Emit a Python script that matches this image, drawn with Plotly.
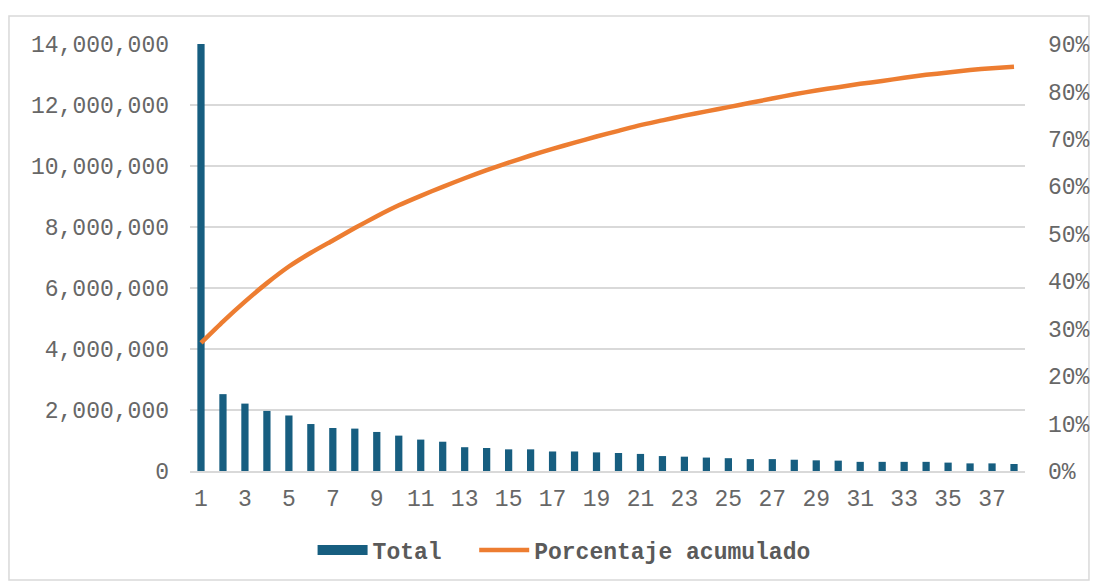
import plotly.graph_objects as go

# Categories 1..38
categorias = list(range(1, 39))

# Total per category
total = [
    14000000, 2520000, 2210000, 1970000, 1820000, 1540000, 1410000, 1390000,
    1280000, 1160000, 1030000, 960000, 780000, 755000, 710000, 710000,
    640000, 640000, 610000, 590000, 560000, 490000, 470000, 440000,
    420000, 390000, 390000, 370000, 350000, 340000, 300000, 300000,
    300000, 300000, 275000, 250000, 250000, 230000,
]

# Cumulative share (0-1)
porcentaje_acumulado = [
    0.270, 0.315, 0.357, 0.396, 0.431, 0.460, 0.486, 0.512,
    0.537, 0.560, 0.580, 0.599, 0.617, 0.634, 0.650, 0.665,
    0.679, 0.692, 0.705, 0.717, 0.729, 0.739, 0.749, 0.758,
    0.767, 0.776, 0.785, 0.794, 0.802, 0.809, 0.816, 0.822,
    0.829, 0.835, 0.840, 0.845, 0.849, 0.852,
]

x_ticks = [c for c in categorias if c % 2 == 1]

FONT = "Liberation Mono, Courier New, monospace"
GRID = "#D9D9D9"
TXT = "#676767"
AZUL = "#175E80"
NARANJA = "#ED7D31"

fig = go.Figure()
fig.add_trace(go.Bar(
    x=categorias, y=total, name="Total",
    marker=dict(color=AZUL, line=dict(width=0)),
    width=0.33, yaxis="y", showlegend=False,
))
# Legend key for the bars, drawn as a wide block
fig.add_trace(go.Scatter(
    x=[None], y=[None], name="Total\u00a0\u00a0", mode="lines",
    line=dict(color=AZUL, width=14), yaxis="y", showlegend=True,
))
fig.add_trace(go.Scatter(
    x=categorias, y=porcentaje_acumulado, name="Porcentaje acumulado",
    mode="lines", line=dict(color=NARANJA, width=4.5, shape="spline", smoothing=0.5),
    yaxis="y2",
))

# Light frame around the chart
fig.add_shape(type="rect", xref="paper", yref="paper",
              x0=-0.2168, x1=1.0766, y0=-0.255, y1=1.0656,
              line=dict(color="#D9D9D9", width=1.5), fillcolor="rgba(0,0,0,0)",
              layer="below")

fig.update_layout(
    width=1097, height=582,
    margin=dict(l=190, r=72, t=44, b=111, autoexpand=False),
    paper_bgcolor="white", plot_bgcolor="white",
    font=dict(family=FONT, color=TXT, size=23),
    showlegend=True,
    legend=dict(orientation="h", x=0.448, xanchor="center", y=-0.185, yanchor="middle",
                font=dict(family=FONT, size=23, color="#5a5a5a", weight="bold"),
                itemwidth=50, traceorder="normal"),
    xaxis=dict(
        range=[0.5, 38.5], tickmode="array", tickvals=x_ticks,
        ticktext=[str(v) for v in x_ticks], showgrid=False, zeroline=False,
        showline=True, linecolor=GRID, linewidth=1.5, ticks="",
        tickfont=dict(family=FONT, size=23, color=TXT), ticklabelstandoff=6,
    ),
    yaxis=dict(
        range=[0, 14000000], dtick=2000000, tickformat=",", showgrid=True,
        gridcolor=GRID, gridwidth=1.5, zeroline=False, showline=False, ticks="",
        tickfont=dict(family=FONT, size=23, color=TXT), ticklabelstandoff=20,
    ),
    yaxis2=dict(
        range=[0, 0.9], dtick=0.1, tickformat=".0%", overlaying="y", side="right",
        showgrid=False, zeroline=False, showline=False, ticks="",
        tickfont=dict(family=FONT, size=23, color=TXT), ticklabelstandoff=22,
    ),
    bargap=0.68,
)

fig.write_html("out.html")
